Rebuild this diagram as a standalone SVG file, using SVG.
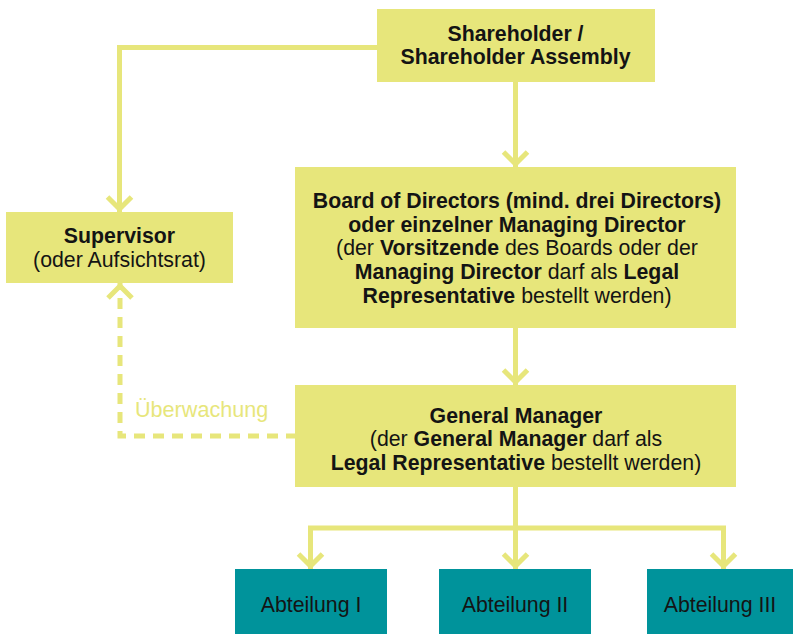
<svg xmlns="http://www.w3.org/2000/svg" width="793" height="634" viewBox="0 0 793 634">
  <style>
    .box { fill: #e7e67b; }
    .dept { fill: #00939b; }
    .t { font-family: "Liberation Sans", Arial, sans-serif; font-size: 21.3px; fill: #141414; text-anchor: middle; }
    .b { font-weight: bold; }
    .lbl { font-family: "Liberation Sans", Arial, sans-serif; font-size: 21.6px; fill: #e7e67b; }
    .line { fill: none; stroke: #e7e67b; stroke-width: 5; stroke-linejoin: miter; marker-end: url(#arr); }
    .dash { stroke-dasharray: 11 8; stroke-dashoffset: 1; }
  </style>
  <defs>
    <marker id="arr" markerUnits="userSpaceOnUse" markerWidth="40" markerHeight="40" refX="0" refY="0" orient="auto" overflow="visible">
      <path d="M-15,-12 L-3,0 L-15,12" fill="none" stroke="#e7e67b" stroke-width="5" stroke-linejoin="miter"/>
    </marker>
  </defs>
  <rect width="793" height="634" fill="#ffffff"/>

  <g id="connectors">
    <path class="line" d="M515.5,82 V167"/>
    <path class="line" d="M377,47.5 H119.5 V212"/>
    <path class="line" d="M515.5,328 V385"/>
    <path class="line" d="M515.5,487 V569"/>
    <path class="line" d="M515.5,528 H310.5 V569"/>
    <path class="line" d="M515.5,528 H723.5 V569"/>
    <path class="line dash" d="M296,436 H120 V283"/>
    <text class="lbl" x="135" y="417">Überwachung</text>
  </g>

  <g id="shareholder">
    <rect class="box" x="377" y="9" width="278" height="73"/>
    <text class="t b" x="515.5" y="41">Shareholder /</text>
    <text class="t b" x="515.5" y="64">Shareholder Assembly</text>
  </g>

  <g id="supervisor">
    <rect class="box" x="6" y="212" width="227" height="71"/>
    <text class="t b" x="119.5" y="243">Supervisor</text>
    <text class="t" x="119.5" y="267">(oder Aufsichtsrat)</text>
  </g>

  <g id="board">
    <rect class="box" x="295" y="167" width="441" height="161"/>
    <text class="t b" x="517" y="208">Board of Directors (mind. drei Directors)</text>
    <text class="t b" x="517" y="232">oder einzelner Managing Director</text>
    <text class="t" x="517" y="255">(der <tspan class="b">Vorsitzende</tspan> des Boards oder der</text>
    <text class="t" x="517" y="279"><tspan class="b">Managing Director</tspan> darf als <tspan class="b">Legal</tspan></text>
    <text class="t" x="517" y="303"><tspan class="b">Representative</tspan> bestellt werden)</text>
  </g>

  <g id="general-manager">
    <rect class="box" x="295" y="385" width="441" height="102"/>
    <text class="t b" x="516" y="422.5">General Manager</text>
    <text class="t" x="516" y="446">(der <tspan class="b">General Manager</tspan> darf als</text>
    <text class="t" x="516" y="470"><tspan class="b">Legal Representative</tspan> bestellt werden)</text>
  </g>

  <g id="abteilung-1">
    <rect class="dept" x="235" y="569" width="152" height="65"/>
    <text class="t" x="311" y="612">Abteilung I</text>
  </g>
  <g id="abteilung-2">
    <rect class="dept" x="439" y="569" width="152" height="65"/>
    <text class="t" x="515" y="612">Abteilung II</text>
  </g>
  <g id="abteilung-3">
    <rect class="dept" x="647" y="569" width="146" height="65"/>
    <text class="t" x="720" y="612">Abteilung III</text>
  </g>
</svg>
